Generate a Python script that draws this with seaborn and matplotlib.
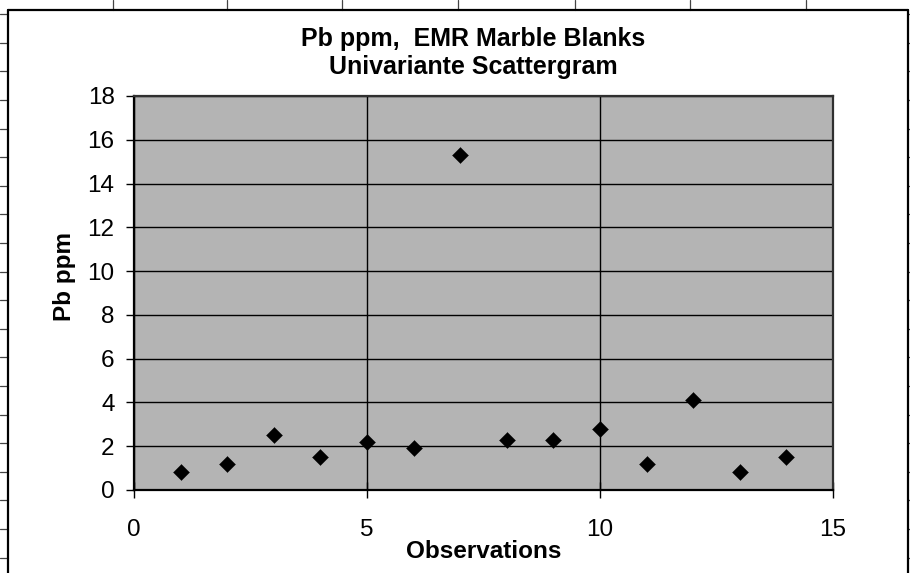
import matplotlib
matplotlib.use("Agg")
import matplotlib.pyplot as plt
from matplotlib.lines import Line2D
import seaborn as sns
import pandas as pd

# ---- data ----
observations = [1, 2, 3, 4, 5, 6, 7, 8, 9, 10, 11, 12, 13, 14]
pb_ppm = [0.8, 1.2, 2.5, 1.5, 2.2, 1.9, 15.3, 2.3, 2.3, 2.8, 1.2, 4.1, 0.8, 1.5]
x_ticks = [0, 5, 10, 15]
y_ticks = [0, 2, 4, 6, 8, 10, 12, 14, 16, 18]
title_text = "Pb ppm,  EMR Marble Blanks\nUnivariante Scattergram"
x_label = "Observations"
y_label = "Pb ppm"

df = pd.DataFrame({"Observations": observations, "Pb ppm": pb_ppm})

sns.set_theme(style="white")
plt.rcParams['font.family'] = ['Liberation Sans', 'DejaVu Sans']

W, H = 910, 573
fig = plt.figure(figsize=(W / 100, H / 100), dpi=100)
fig.patch.set_facecolor("white")


def fx(x):
    return x / W


def fy(y):
    return 1 - y / H


def fline(x0, y0, x1, y1, color="#333333", lw=1.0):
    fig.add_artist(Line2D([fx(x0), fx(x1)], [fy(y0), fy(y1)],
                          transform=fig.transFigure, color=color, lw=lw))


# spreadsheet cell lines outside the chart object
for xv in [113, 227, 342, 458, 575, 690, 806]:
    fline(xv, 0, xv, 10, color="#444444", lw=0.9)
yv = 14.2
while yv < H:
    fline(0, yv, 8, yv, color="#444444", lw=0.9)
    fline(908, yv, W, yv, color="#444444", lw=0.9)
    yv += 28.6

# chart object frame
fline(8, 10, 908, 10, color="black", lw=1.6)
fline(8, 10, 8, H, color="black", lw=1.6)
fline(908, 10, 908, H, color="black", lw=1.6)

ax = fig.add_axes([fx(134), fy(490), (833 - 134) / W, (490 - 96) / H])
ax.set_facecolor("#b4b4b4")

sns.scatterplot(data=df, x="Observations", y="Pb ppm", ax=ax, marker="D",
                s=66, color="black", edgecolor="black", linewidth=0.3,
                zorder=5, legend=False)

ax.set_xlim(0, 15)
ax.set_ylim(0, 18)
ax.set_xticks(x_ticks)
ax.set_yticks(y_ticks)
ax.set_xticklabels([str(v) for v in x_ticks], fontsize=17.5)
ax.set_yticklabels([str(v) for v in y_ticks], fontsize=17.5)

ax.grid(True, color="black", lw=1.0)
ax.set_axisbelow(True)

for side in ["left", "bottom"]:
    ax.spines[side].set_color("black")
    ax.spines[side].set_linewidth(1.6)
for side in ["top", "right"]:
    ax.spines[side].set_color("#303030")
    ax.spines[side].set_linewidth(1.6)

ax.tick_params(axis="y", direction="out", length=6, width=1, pad=8,
               color="black", left=True, labelcolor="black")
ax.tick_params(axis="x", direction="inout", length=12, width=1, pad=15,
               color="black", bottom=True, labelcolor="black")

ax.set_xlabel(x_label, fontsize=17.5, fontweight="bold", labelpad=-1, color="black")
ax.set_ylabel(y_label, fontsize=17.5, fontweight="bold", color="black")
ax.yaxis.set_label_coords((76 - 134) / 699, (490 - 276) / 394)
ax.set_title(title_text, fontsize=18, fontweight="bold", pad=16, color="black",
             linespacing=1.2, x=(473 - 134) / 699)

fig.savefig("out.png", dpi=100)
